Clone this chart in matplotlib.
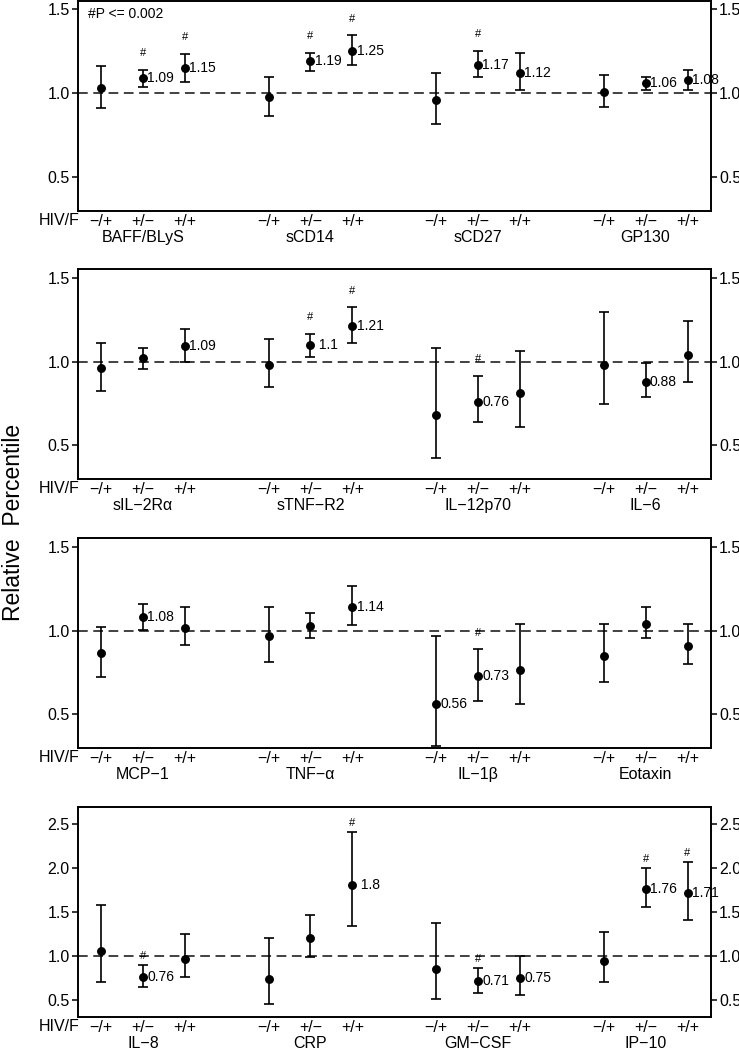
import matplotlib
matplotlib.use("Agg")
import matplotlib.pyplot as plt
from matplotlib.transforms import blended_transform_factory

plt.rcParams['font.family'] = ['Liberation Sans', 'DejaVu Sans']
plt.rcParams['lines.scale_dashes'] = False

# HIV / F subgroup tick labels
groups = ["\u2212/+", "+/\u2212", "+/+"]

# Panel 1
p1_markers = ["BAFF/BLyS", "sCD14", "sCD27", "GP130"]
p1_mean = [1.03, 1.09, 1.15, 0.98, 1.19, 1.25, 0.96, 1.17, 1.12, 1.01, 1.06, 1.08]
p1_low = [0.915, 1.036, 1.065, 0.865, 1.131, 1.168, 0.817, 1.099, 1.018, 0.917, 1.018, 1.018]
p1_high = [1.163, 1.14, 1.236, 1.10, 1.242, 1.345, 1.123, 1.254, 1.242, 1.109, 1.10, 1.139]
p1_sig = [0, 1, 1, 0, 1, 1, 0, 1, 0, 0, 0, 0]
p1_lab = ["", "1.09", "1.15", "", "1.19", "1.25", "", "1.17", "1.12", "", "1.06", "1.08"]

# Panel 2
p2_markers = ["sIL\u22122R\u03b1", "sTNF\u2212R2", "IL\u221212p70", "IL\u22126"]
p2_mean = [0.96, 1.02, 1.09, 0.98, 1.10, 1.21, 0.68, 0.76, 0.81, 0.98, 0.88, 1.04]
p2_low = [0.827, 0.958, 1.0, 0.849, 1.028, 1.109, 0.425, 0.639, 0.613, 0.746, 0.79, 0.879]
p2_high = [1.113, 1.083, 1.195, 1.135, 1.165, 1.323, 1.083, 0.913, 1.064, 1.296, 0.99, 1.244]
p2_sig = [0, 0, 0, 0, 1, 1, 0, 1, 0, 0, 0, 0]
p2_lab = ["", "", "1.09", "", " 1.1", "1.21", "", "0.76", "", "", "0.88", ""]

# Panel 3
p3_markers = ["MCP\u22121", "TNF\u2212\u03b1", "IL\u22121\u03b2", "Eotaxin"]
p3_mean = [0.866, 1.08, 1.018, 0.968, 1.03, 1.14, 0.56, 0.73, 0.767, 0.846, 1.04, 0.908]
p3_low = [0.725, 1.004, 0.914, 0.812, 0.956, 1.036, 0.31, 0.581, 0.561, 0.691, 0.956, 0.803]
p3_high = [1.02, 1.161, 1.141, 1.141, 1.102, 1.265, 0.968, 0.888, 1.04, 1.04, 1.141, 1.04]
p3_sig = [0, 0, 0, 0, 0, 0, 0, 1, 0, 0, 0, 0]
p3_lab = ["", "1.08", "", "", "", "1.14", "0.56", "0.73", "", "", "", ""]

# Panel 4
p4_markers = ["IL\u22128", "CRP", "GM\u2212CSF", "IP\u221210"]
p4_mean = [1.06, 0.76, 0.966, 0.739, 1.208, 1.80, 0.849, 0.71, 0.75, 0.94, 1.76, 1.71]
p4_low = [0.708, 0.648, 0.758, 0.455, 0.989, 1.341, 0.511, 0.58, 0.557, 0.70, 1.56, 1.409]
p4_high = [1.583, 0.901, 1.246, 1.20, 1.47, 2.41, 1.379, 0.86, 1.0, 1.273, 2.0, 2.068]
p4_sig = [0, 1, 0, 0, 0, 1, 0, 1, 0, 0, 1, 1]
p4_lab = ["", "0.76", "", "", "", " 1.8", "", "0.71", "0.75", "", "1.76", "1.71"]

panels = [
    (p1_markers, p1_mean, p1_low, p1_high, p1_sig, p1_lab, [0.5, 1.0, 1.5], (0.30, 1.55)),
    (p2_markers, p2_mean, p2_low, p2_high, p2_sig, p2_lab, [0.5, 1.0, 1.5], (0.30, 1.55)),
    (p3_markers, p3_mean, p3_low, p3_high, p3_sig, p3_lab, [0.5, 1.0, 1.5], (0.30, 1.55)),
    (p4_markers, p4_mean, p4_low, p4_high, p4_sig, p4_lab, [0.5, 1.0, 1.5, 2.0, 2.5], (0.31, 2.69)),
]

fig = plt.figure(figsize=(7.39, 10.5), dpi=100)
bottoms = [0.7993, 0.5438, 0.2876, 0.0317]
left, width, height = 0.1055, 0.856, 0.1997

for i, (markers, mean, low, high, sig, lab, yt, yl) in enumerate(panels):
    ax = fig.add_axes([left, bottoms[i], width, height])
    xs = [g * 4 + j for g in range(len(markers)) for j in range(len(groups))]
    yerr = [[max(m - lo, 0) for m, lo in zip(mean, low)],
            [max(hi - m, 0) for m, hi in zip(mean, high)]]
    ax.axhline(1.0, color='#333333', lw=1.3, dashes=(7.0, 4.0), zorder=1)
    ax.errorbar(xs, mean, yerr=yerr, fmt='o', color='black', ms=5.4,
                capsize=3.8, elinewidth=1.2, capthick=1.2, zorder=3)
    for x, m, hi, s, t in zip(xs, mean, high, sig, lab):
        if t:
            ax.annotate(t, (x, m), xytext=(3.0, 0), textcoords='offset points',
                        ha='left', va='center', fontsize=10)
        if s:
            ax.text(x, hi + 0.1, '#', ha='center', va='center', fontsize=8)
    ax.set_xlim(-0.55, 14.55)
    ax.set_ylim(*yl)
    ax.set_yticks(yt)
    ax.set_yticklabels([f"{v:.1f}" for v in yt])
    ax.tick_params(axis='y', left=True, right=True, labelleft=True, labelright=True,
                   direction='out', length=4, width=1.1, labelsize=11.5, pad=2)
    ax.set_xticks(xs)
    ax.set_xticklabels(groups * len(markers))
    ax.tick_params(axis='x', length=0, labelsize=11.5, pad=2.5)
    for sp in ax.spines.values():
        sp.set_linewidth(1.4)
    trans = blended_transform_factory(ax.transData, ax.transAxes)
    for g, name in enumerate(markers):
        ax.text(g * 4 + 1, -0.127, name, transform=trans, ha='center', va='center',
                fontsize=11.5)
    ax.text(0.003, -0.046, "HIV/F", transform=ax.transAxes, ha='right', va='center',
            fontsize=11.5)
    if i == 0:
        ax.text(0.016, 0.938, "#P <= 0.002", transform=ax.transAxes, ha='left',
                va='center', fontsize=10)

fig.text(0.018, 0.502, "Relative  Percentile", rotation=90, ha='center', va='center',
         fontsize=16.5)

fig.savefig("out.png", dpi=100)
